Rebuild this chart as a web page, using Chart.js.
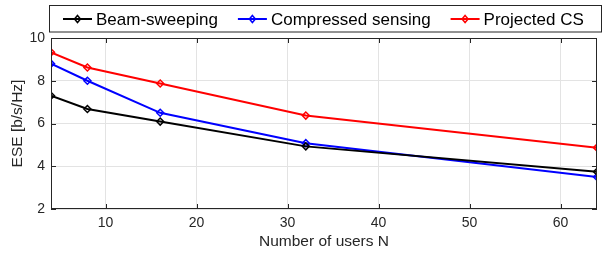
<!DOCTYPE html>
<html>
<head>
<meta charset="utf-8">
<script src="https://cdn.jsdelivr.net/npm/chart.js@4/dist/chart.umd.min.js"></script>
<style>
  html, body { margin: 0; padding: 0; background: #fff; }
  #wrap { width: 611px; height: 253px; }
</style>
</head>
<body>
<div id="wrap"><canvas id="eseChart" width="611" height="253"></canvas></div>
<script>
// --- Data ---
const users = [4, 8, 16, 32, 64];
const beamSweeping = [7.30, 6.68, 6.09, 4.93, 3.74];
const compressedSensing = [8.80, 8.00, 6.50, 5.08, 3.50];
const projectedCS = [9.33, 8.62, 7.87, 6.37, 4.87];
const xTicks = [10, 20, 30, 40, 50, 60];
const yTicks = [2, 4, 6, 8, 10];
const seriesNames = ["Beam-sweeping", "Compressed sensing", "Projected CS"];
const seriesColors = ["#000000", "#0000ff", "#ff0000"];

const axisColor = "#262626";
const font = "'Liberation Sans', Arial, Helvetica, sans-serif";

function toPoints(values) {
  return users.map((u, i) => ({x: u, y: values[i]}));
}

// --- Box, inward ticks and legend (MATLAB look) ---
const matlabBox = {
  id: "matlabBox",
  afterDraw(chart) {
    const ctx = chart.ctx;
    const a = chart.chartArea;
    const xs = chart.scales.x, ys = chart.scales.y;
    ctx.save();
    ctx.strokeStyle = axisColor;
    ctx.lineWidth = 1;
    ctx.strokeRect(a.left + 0.5, a.top + 0.5, a.right - a.left - 1, a.bottom - a.top - 1);
    ctx.beginPath();
    xTicks.forEach(v => {
      let px = Math.round(xs.getPixelForValue(v)) + 0.5;
      ctx.moveTo(px, a.bottom); ctx.lineTo(px, a.bottom - 5);
      ctx.moveTo(px, a.top); ctx.lineTo(px, a.top + 5);
    });
    yTicks.forEach(v => {
      let py = Math.round(ys.getPixelForValue(v)) + 0.5;
      ctx.moveTo(a.left, py); ctx.lineTo(a.left + 5, py);
      ctx.moveTo(a.right, py); ctx.lineTo(a.right - 5, py);
    });
    ctx.stroke();

    // legend
    ctx.fillStyle = "#fff";
    ctx.fillRect(49, 5, 552, 27);
    ctx.strokeRect(49.5, 5.5, 552, 26.5);
    ctx.font = "17px " + font;
    ctx.textBaseline = "middle";
    let x = 63;
    const cy = 19;
    chart.data.datasets.forEach((ds, i) => {
      ctx.strokeStyle = ds.borderColor;
      ctx.lineWidth = 2;
      ctx.beginPath();
      ctx.moveTo(x, cy); ctx.lineTo(x + 29, cy);
      ctx.stroke();
      ctx.lineWidth = 1.5;
      ctx.beginPath();
      ctx.moveTo(x + 14.5, cy - 3.5);
      ctx.lineTo(x + 17.5, cy);
      ctx.lineTo(x + 14.5, cy + 3.5);
      ctx.lineTo(x + 11.5, cy);
      ctx.closePath();
      ctx.stroke();
      ctx.fillStyle = "#000";
      ctx.fillText(ds.label, x + 33, cy + 1);
      x += 33 + ctx.measureText(ds.label).width + 20;
    });
    ctx.restore();
  }
};

// --- Chart ---
const datasets = [beamSweeping, compressedSensing, projectedCS].map((vals, i) => ({
  label: seriesNames[i],
  data: toPoints(vals),
  borderColor: seriesColors[i],
  backgroundColor: seriesColors[i],
  borderWidth: 2,
  pointStyle: "rectRot",
  pointRadius: 3.5,
  pointBorderWidth: 1.5,
  pointBackgroundColor: "rgba(0,0,0,0)",
  pointBorderColor: seriesColors[i],
  tension: 0
}));

new Chart(document.getElementById("eseChart"), {
  type: "line",
  data: { datasets },
  options: {
    responsive: false,
    animation: false,
    layout: { padding: { top: 38, right: 14, bottom: 0, left: 0 } },
    plugins: { legend: { display: false }, tooltip: { enabled: false } },
    scales: {
      x: {
        type: "linear",
        min: 4, max: 64,
        afterBuildTicks: s => { s.ticks = xTicks.map(v => ({value: v})); },
        afterFit: s => { s.height = 44; },
        grid: { color: "#e3e3e3", drawTicks: false },
        border: { display: false },
        ticks: { padding: 6, color: "#262626", font: { family: font, size: 14 } },
        title: { display: true, text: "Number of users N", color: "#262626",
                 font: { family: font, size: 15.5 }, padding: { top: 0, bottom: 2 } }
      },
      y: {
        min: 2, max: 10,
        afterBuildTicks: s => { s.ticks = yTicks.map(v => ({value: v})); },
        afterFit: s => { s.width = 51; },
        grid: { color: "#e3e3e3", drawTicks: false },
        border: { display: false },
        ticks: { padding: 6, color: "#262626", font: { family: font, size: 14 } },
        title: { display: true, text: "ESE [b/s/Hz]", color: "#262626",
                 font: { family: font, size: 15.5 }, padding: { top: 8, bottom: 0 } }
      }
    }
  },
  plugins: [matlabBox]
});
</script>
</body>
</html>
